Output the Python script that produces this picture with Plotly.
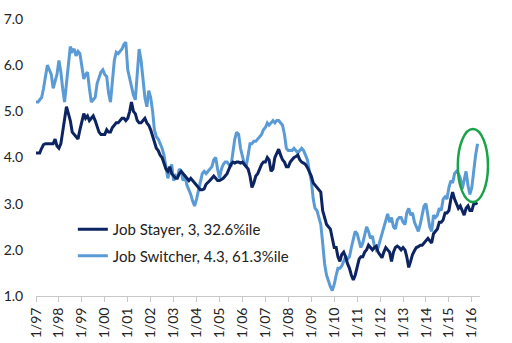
import pandas as pd
import plotly.graph_objects as go

dates = pd.date_range("1997-01-01", periods=232, freq="MS")

switcher = [
    5.2, 5.2, 5.25, 5.3, 5.5, 5.75, 6.0, 5.9, 5.8, 5.5, 5.65, 5.8,          # 1997
    6.1, 5.85, 5.5, 5.2, 5.6, 6.0, 6.4, 6.3, 6.35, 6.2, 6.3, 6.25,          # 1998
    6.0, 5.7, 5.8, 5.85, 5.5, 5.2, 5.25, 5.3, 5.6, 5.75, 5.85, 5.9,         # 1999
    5.8, 5.75, 5.4, 5.2, 5.7, 6.1, 6.28, 6.25, 6.3, 6.35, 6.45, 6.5,        # 2000
    5.9, 5.7, 5.55, 5.35, 5.25, 5.8, 6.35, 6.1, 5.6, 5.3, 5.1, 5.45,        # 2001
    5.3, 5.0, 4.6, 4.45, 4.4, 4.3, 4.2, 4.05, 3.75, 3.55, 3.7, 3.85,        # 2002
    3.5, 3.6, 3.55, 3.75, 3.7, 3.5, 3.6, 3.4, 3.3, 3.2, 3.05, 2.95,         # 2003
    3.1, 3.3, 3.5, 3.65, 3.7, 3.65, 3.7, 3.75, 3.8, 3.95, 4.0, 3.75,        # 2004
    3.55, 3.75, 3.85, 3.9, 3.9, 3.85, 3.8, 4.1, 4.4, 4.55, 4.5, 4.2,        # 2005
    4.0, 3.85, 3.8, 4.05, 4.3, 4.3, 4.35, 4.35, 4.4, 4.45, 4.5, 4.6,        # 2006
    4.65, 4.75, 4.7, 4.75, 4.8, 4.75, 4.8, 4.8, 4.75, 4.7, 4.5, 4.2,        # 2007
    4.15, 4.15, 4.15, 4.2, 4.15, 4.1, 4.15, 4.2, 4.15, 4.05, 3.95, 3.7,     # 2008
    3.5, 3.1, 2.9, 2.85, 2.7, 2.55, 2.15, 1.7, 1.45, 1.3, 1.2, 1.12,        # 2009
    1.25, 1.45, 1.6, 1.6, 1.65, 1.75, 1.85, 1.8, 1.85, 2.05, 2.25, 2.4,     # 2010
    2.35, 2.2, 2.05, 2.15, 2.3, 2.5, 2.4, 2.25, 2.3, 2.1, 2.0, 2.05,        # 2011
    2.2, 2.35, 2.45, 2.6, 2.78, 2.6, 2.7, 2.5, 2.45, 2.65, 2.7, 2.7,        # 2012
    2.6, 2.55, 2.8, 2.9, 2.75, 2.8, 2.6, 2.5, 2.4, 2.55, 2.75, 2.95,        # 2013
    3.0, 2.75, 2.5, 2.4, 2.75, 2.7, 2.75, 2.9, 2.85, 3.1, 3.15, 3.1,        # 2014
    3.35, 3.5, 3.45, 3.65, 3.7, 3.65, 3.55, 3.32, 3.5, 3.7, 3.4, 3.2,       # 2015
    3.35, 3.75, 4.05, 4.3,                                                  # 2016
]

stayer = [
    4.1, 4.1, 4.1, 4.2, 4.28, 4.3, 4.3, 4.3, 4.3, 4.3, 4.4, 4.25,          # 1997
    4.2, 4.3, 4.55, 4.85, 5.1, 4.95, 4.8, 4.55, 4.5, 4.45, 4.4, 4.6,        # 1998
    4.75, 4.95, 4.85, 4.9, 4.8, 4.85, 4.9, 4.8, 4.65, 4.55, 4.5, 4.5,       # 1999
    4.5, 4.6, 4.55, 4.55, 4.65, 4.7, 4.75, 4.75, 4.8, 4.85, 4.85, 4.8,      # 2000
    4.85, 5.0, 5.2, 5.0, 4.95, 4.8, 4.75, 4.75, 4.8, 4.85, 4.75, 4.7,       # 2001
    4.6, 4.45, 4.3, 4.2, 4.15, 4.05, 4.0, 3.85, 3.75, 3.7, 3.8, 3.65,       # 2002
    3.6, 3.55, 3.55, 3.65, 3.7, 3.65, 3.6, 3.55, 3.5, 3.55, 3.5, 3.45,      # 2003
    3.4, 3.35, 3.3, 3.3, 3.32, 3.42, 3.45, 3.5, 3.55, 3.6, 3.55, 3.5,       # 2004
    3.5, 3.52, 3.55, 3.6, 3.65, 3.75, 3.85, 3.9, 3.88, 3.9, 3.9, 3.88,      # 2005
    3.9, 3.85, 3.8, 3.75, 3.6, 3.35, 3.45, 3.6, 3.65, 3.75, 3.85, 3.9,      # 2006
    3.9, 4.0, 3.95, 3.7, 3.75, 4.0, 4.1, 4.18, 4.05, 3.95, 3.9, 3.8,        # 2007
    3.8, 3.9, 3.95, 4.0, 4.02, 4.05, 3.95, 3.9, 3.88, 3.85, 3.78, 3.7,      # 2008
    3.6, 3.45, 3.4, 3.35, 3.3, 3.25, 2.85, 2.7, 2.55, 2.5, 2.45, 2.25,      # 2009
    2.05, 2.05, 1.85, 1.75, 1.9, 1.95, 1.85, 1.7, 1.6, 1.45, 1.35, 1.45,    # 2010
    1.65, 1.8, 1.85, 1.85, 1.95, 2.0, 2.1, 2.05, 2.0, 2.05, 2.08, 1.95,     # 2011
    1.9, 1.83, 1.95, 2.05, 2.0, 1.95, 1.75, 1.95, 2.05, 2.08, 2.05, 2.0,    # 2012
    2.05, 2.0, 1.85, 1.62, 1.75, 1.9, 1.98, 2.05, 2.07, 2.1, 2.1, 2.15,     # 2013
    2.2, 2.25, 2.2, 2.15, 2.35, 2.4, 2.45, 2.6, 2.6, 2.65, 2.8, 2.8,        # 2014
    2.85, 3.1, 3.25, 3.1, 3.0, 2.9, 2.95, 2.85, 2.75, 2.9, 2.95, 2.85,      # 2015
    2.85, 3.0, 3.0, 3.02,                                                   # 2016
]

stayer_label = "Job Stayer, 3, 32.6%ile"
switcher_label = "Job Switcher, 4.3, 61.3%ile"
y_ticks = [1, 2, 3, 4, 5, 6, 7]

FONT = "Lato"

fig = go.Figure()
fig.add_trace(go.Scatter(x=dates, y=switcher, mode="lines", name=switcher_label,
                         legendgroup="b", legendrank=2,
                         line=dict(color="#5b9bd5", width=3)))
fig.add_trace(go.Scatter(x=dates, y=stayer, mode="lines", name=stayer_label,
                         legendgroup="a", legendrank=1,
                         line=dict(color="#0c2461", width=3)))

fig.update_layout(
    width=512, height=343,
    margin=dict(l=36, r=32, t=19, b=47),
    paper_bgcolor="white", plot_bgcolor="white",
    font=dict(family=FONT, size=12, color="#222222"),
    showlegend=True,
    legend=dict(x=0.083, y=0.30, xanchor="left", yanchor="top",
                bgcolor="rgba(0,0,0,0)", font=dict(size=15, family=FONT),
                tracegroupgap=4, traceorder="grouped"),
    xaxis=dict(
        type="date", automargin=False,
        range=["1997-01-01", "2016-05-10"],
        tick0="1997-01-01", dtick="M12", tickformat="%-m/%y",
        tickangle=-90, showgrid=False, zeroline=False,
        showline=True, linecolor="#c8c8c8", linewidth=1,
        ticks="outside", ticklen=5, tickcolor="#c8c8c8",
        tickfont=dict(size=14, family=FONT),
    ),
    yaxis=dict(
        range=[1, 7], tickvals=y_ticks, automargin=False,
        tickformat=".1f", showgrid=False, zeroline=False, showline=False,
        ticks="outside", ticklen=9, tickcolor="rgba(0,0,0,0)",
        tickfont=dict(size=14, family=FONT),
    ),
    shapes=[dict(type="circle", xref="paper", yref="paper",
                 x0=0.950, x1=1.018, y0=0.339, y1=0.603,
                 line=dict(color="#19a349", width=2.5))],
)

fig.write_html("out.html")
